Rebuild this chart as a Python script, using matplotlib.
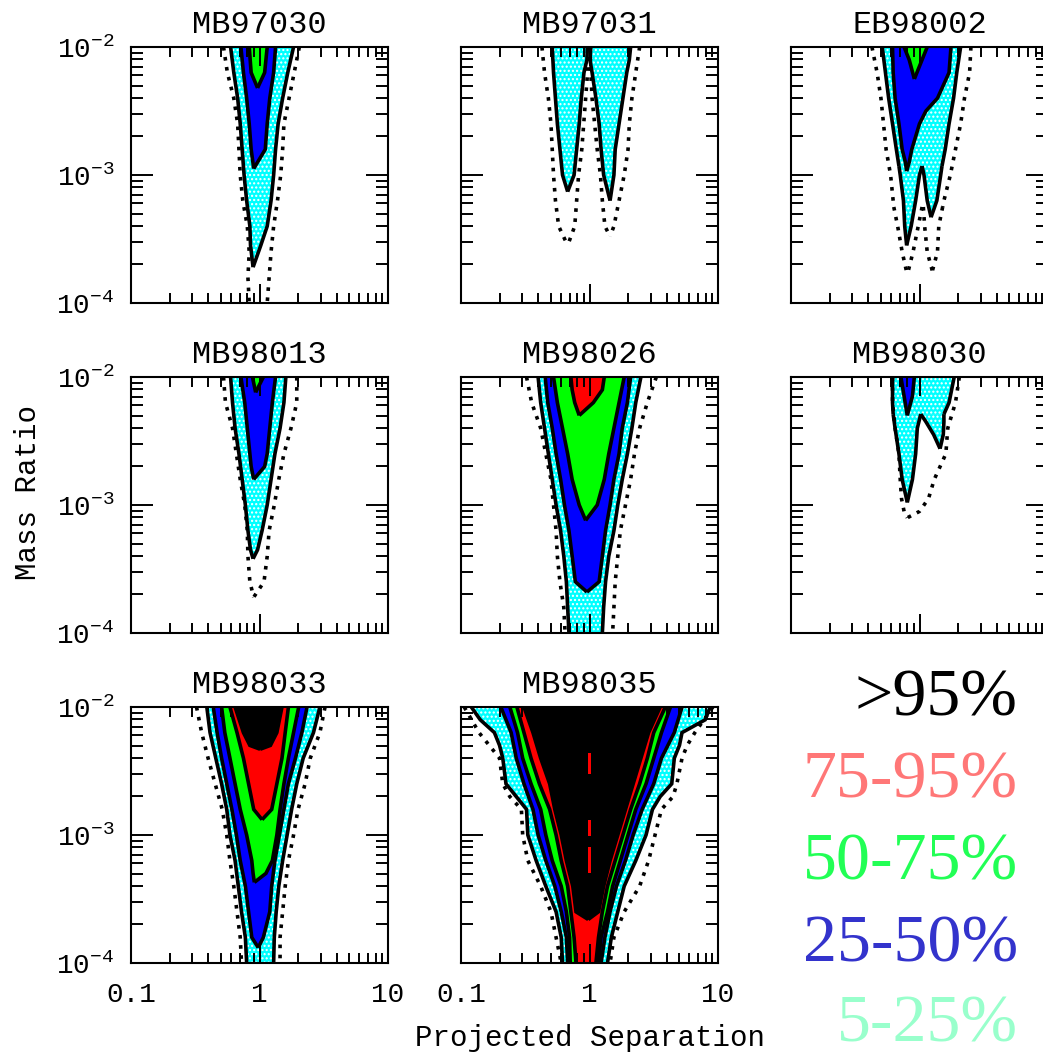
import numpy as np
import matplotlib
matplotlib.use("Agg")
import matplotlib.pyplot as plt
from matplotlib.ticker import LogLocator, NullFormatter

# ---------------------------------------------------------------------------
# Detection-efficiency contours in (log10 separation, log10 mass ratio).
# Each lobe is (log10 q rows, log10 s left edge, log10 s right edge).
# Levels: DOT = 1% (dotted), C05 = 5%, C25 = 25%, C50 = 50%, C75 = 75%, C95 = 95%
# ---------------------------------------------------------------------------
R11 = [-2.0, -2.2, -2.4, -2.6, -2.8, -3.0, -3.2, -3.4, -3.6, -3.8, -4.0]

# MB97030
MB97030_DOT = [(R11,
                [-0.28, -0.25, -0.20, -0.17, -0.16, -0.15, -0.13, -0.095, -0.08, -0.09, -0.08],
                [0.31, 0.27, 0.23, 0.19, 0.18, 0.165, 0.14, 0.11, 0.09, 0.075, 0.06])]
MB97030_C05 = [([-2.0, -2.2, -2.4, -2.6, -2.8, -3.0, -3.2, -3.4, -3.55, -3.72],
                [-0.225, -0.20, -0.17, -0.15, -0.135, -0.12, -0.10, -0.075, -0.07, -0.05],
                [0.265, 0.22, 0.18, 0.145, 0.125, 0.11, 0.09, 0.06, 0.01, -0.05])]
MB97030_C25 = [([-2.0, -2.2, -2.4, -2.6, -2.8, -2.95],
                [-0.145, -0.125, -0.10, -0.08, -0.065, -0.045],
                [0.125, 0.11, 0.08, 0.06, 0.045, -0.045])]
MB97030_C50 = [([-2.0, -2.2, -2.32], [-0.08, -0.065, -0.015], [0.06, 0.04, -0.015])]

# MB97031
MB97031_DOT = [([-2.0, -2.2, -2.4, -2.6, -2.8, -3.0, -3.2, -3.4, -3.55],
                [-0.37, -0.35, -0.32, -0.30, -0.29, -0.28, -0.265, -0.24, -0.17],
                [-0.01, -0.015, -0.03, -0.045, -0.06, -0.085, -0.10, -0.115, -0.17]),
               ([-2.0, -2.2, -2.4, -2.6, -2.8, -3.0, -3.2, -3.4, -3.48],
                [0.005, 0.01, 0.02, 0.04, 0.06, 0.085, 0.10, 0.12, 0.16],
                [0.39, 0.36, 0.33, 0.31, 0.30, 0.27, 0.23, 0.19, 0.16])]
MB97031_C05 = [([-2.0, -2.1, -2.2, -2.4, -2.6, -2.8, -3.0, -3.13],
                [-0.29, -0.285, -0.28, -0.265, -0.25, -0.23, -0.21, -0.17],
                [-0.017, -0.02, -0.043, -0.064, -0.08, -0.10, -0.12, -0.17]),
               ([-2.0, -2.1, -2.2, -2.4, -2.6, -2.8, -3.0, -3.2],
                [0.01, 0.004, 0.02, 0.05, 0.075, 0.09, 0.11, 0.16],
                [0.32, 0.31, 0.29, 0.26, 0.23, 0.20, 0.19, 0.16])]

# EB98002
EB98002_DOT = [([-2.0, -2.2, -2.4, -2.6, -2.8, -3.0, -3.2, -3.25],
                [-0.37, -0.33, -0.30, -0.28, -0.26, -0.225, -0.205, -0.20],
                [0.40, 0.39, 0.35, 0.32, 0.28, 0.24, 0.19, 0.18]),
               ([-3.25, -3.4, -3.6, -3.78], [-0.20, -0.17, -0.135, -0.095], [0.02, -0.01, -0.05, -0.095]),
               ([-3.25, -3.4, -3.6, -3.75], [0.03, 0.04, 0.06, 0.10], [0.18, 0.15, 0.14, 0.10])]
EB98002_C05 = [([-2.0, -2.2, -2.4, -2.6, -2.8, -2.93],
                [-0.29, -0.265, -0.24, -0.21, -0.18, -0.16],
                [0.32, 0.29, 0.265, 0.23, 0.20, 0.175]),
               ([-2.93, -3.0, -3.2, -3.4, -3.55], [-0.16, -0.15, -0.125, -0.115, -0.10],
                [0.02, 0.0, -0.03, -0.065, -0.10]),
               ([-2.93, -3.0, -3.2, -3.33], [0.02, 0.035, 0.06, 0.09], [0.175, 0.165, 0.135, 0.09])]
EB98002_C25 = [([-2.0, -2.2, -2.4, -2.5, -2.6, -2.8, -2.9, -2.97],
                [-0.21, -0.205, -0.19, -0.175, -0.16, -0.135, -0.11, -0.10],
                [0.245, 0.23, 0.14, 0.05, 0.0, -0.06, -0.08, -0.10])]
EB98002_C50 = [([-2.0, -2.1, -2.25], [-0.12, -0.08, -0.04], [0.06, 0.02, -0.04])]

# MB98013
MB98013_DOT = [([-2.0, -2.2, -2.4, -2.6, -2.8, -3.0, -3.2, -3.4, -3.6, -3.72],
                [-0.28, -0.265, -0.21, -0.18, -0.15, -0.115, -0.095, -0.09, -0.075, -0.045],
                [0.29, 0.29, 0.245, 0.19, 0.15, 0.115, 0.075, 0.06, 0.035, -0.045])]
MB98013_C05 = [([-2.0, -2.2, -2.4, -2.6, -2.8, -3.0, -3.2, -3.35, -3.42],
                [-0.225, -0.21, -0.19, -0.16, -0.135, -0.11, -0.09, -0.07, -0.05],
                [0.205, 0.19, 0.16, 0.12, 0.09, 0.06, 0.02, -0.015, -0.05])]
MB98013_C25 = [([-2.0, -2.2, -2.4, -2.6, -2.7, -2.8],
                [-0.145, -0.115, -0.095, -0.075, -0.065, -0.045],
                [0.125, 0.10, 0.08, 0.06, 0.04, -0.045])]
MB98013_C50 = [([-2.0, -2.12], [-0.055, -0.03], [0.03, -0.03])]

# MB98026
MB98026_DOT = [(R11,
                [-0.49, -0.45, -0.38, -0.34, -0.30, -0.28, -0.26, -0.25, -0.23, -0.20, -0.19],
                [0.52, 0.45, 0.39, 0.35, 0.32, 0.28, 0.24, 0.22, 0.20, 0.19, 0.18])]
MB98026_C05 = [(R11,
                [-0.40, -0.38, -0.35, -0.32, -0.29, -0.26, -0.225, -0.20, -0.18, -0.17, -0.16],
                [0.40, 0.36, 0.33, 0.295, 0.255, 0.22, 0.19, 0.15, 0.125, 0.11, 0.10])]
MB98026_C25 = [([-2.0, -2.2, -2.4, -2.6, -2.8, -3.0, -3.2, -3.4, -3.6, -3.68],
                [-0.345, -0.325, -0.29, -0.26, -0.225, -0.195, -0.16, -0.135, -0.11, -0.02],
                [0.32, 0.295, 0.255, 0.23, 0.19, 0.16, 0.125, 0.10, 0.075, -0.02])]
MB98026_C50 = [([-2.0, -2.2, -2.4, -2.6, -2.8, -3.0, -3.12],
                [-0.28, -0.25, -0.21, -0.17, -0.135, -0.08, -0.03],
                [0.27, 0.23, 0.19, 0.15, 0.115, 0.06, -0.03])]
MB98026_C75 = [([-2.0, -2.1, -2.2, -2.3], [-0.145, -0.135, -0.115, -0.08], [0.115, 0.10, 0.03, -0.08])]

# MB98030
MB98030_DOT = [([-2.0, -2.2, -2.4, -2.6, -2.8, -2.95, -3.05, -3.1],
                [-0.21, -0.21, -0.19, -0.16, -0.15, -0.14, -0.12, -0.095],
                [0.31, 0.28, 0.22, 0.205, 0.115, 0.07, 0.0, -0.095])]
MB98030_C05 = [([-2.0, -2.2, -2.29], [-0.21, -0.21, -0.205], [0.27, 0.23, 0.19]),
               ([-2.29, -2.4, -2.6, -2.8, -2.98], [-0.205, -0.19, -0.16, -0.135, -0.095],
                [0.01, -0.017, -0.03, -0.055, -0.095]),
               ([-2.29, -2.35, -2.45, -2.56], [0.01, 0.05, 0.11, 0.16], [0.19, 0.19, 0.185, 0.16])]
MB98030_C25 = [([-2.0, -2.15, -2.3], [-0.145, -0.12, -0.095], [-0.04, -0.055, -0.095])]

# MB98033
MB98033_DOT = [(R11,
                [-0.49, -0.45, -0.40, -0.345, -0.29, -0.255, -0.23, -0.20, -0.175, -0.15, -0.14],
                [0.51, 0.47, 0.395, 0.355, 0.30, 0.265, 0.225, 0.20, 0.18, 0.16, 0.16])]
MB98033_C05 = [(R11,
                [-0.41, -0.385, -0.34, -0.295, -0.255, -0.23, -0.19, -0.165, -0.14, -0.11, -0.10],
                [0.47, 0.42, 0.34, 0.29, 0.25, 0.215, 0.18, 0.15, 0.13, 0.115, 0.11])]
MB98033_C25 = [([-2.0, -2.2, -2.4, -2.6, -2.8, -3.0, -3.2, -3.4, -3.6, -3.8, -3.88],
                [-0.36, -0.33, -0.295, -0.255, -0.215, -0.18, -0.15, -0.11, -0.085, -0.06, -0.01],
                [0.37, 0.33, 0.28, 0.225, 0.19, 0.155, 0.12, 0.095, 0.08, 0.03, -0.01])]
MB98033_C50 = [([-2.0, -2.2, -2.4, -2.6, -2.8, -3.0, -3.2, -3.3, -3.37],
                [-0.295, -0.27, -0.23, -0.19, -0.15, -0.10, -0.06, -0.05, -0.04],
                [0.305, 0.265, 0.225, 0.19, 0.16, 0.135, 0.10, 0.05, -0.04])]
MB98033_C75 = [([-2.0, -2.2, -2.4, -2.6, -2.8, -2.88],
                [-0.23, -0.175, -0.125, -0.085, -0.045, 0.02],
                [0.225, 0.20, 0.175, 0.135, 0.095, 0.02])]
MB98033_C95 = [([-2.0, -2.2, -2.3, -2.33], [-0.19, -0.125, -0.075, 0.005], [0.175, 0.135, 0.085, 0.005])]

# MB98035
MB98035_DOT = [([-2.0, -2.2, -2.3, -2.4, -2.6, -2.7, -2.8, -3.0, -3.2, -3.4, -3.6, -3.8, -4.0],
                [-0.975, -0.86, -0.78, -0.70, -0.675, -0.62, -0.53, -0.52, -0.48, -0.38, -0.30, -0.26, -0.22],
                [0.96, 0.82, 0.76, 0.72, 0.68, 0.65, 0.56, 0.51, 0.46, 0.39, 0.27, 0.19, 0.16])]
MB98035_C05 = [([-2.0, -2.1, -2.2, -2.3, -2.4, -2.6, -2.7, -2.8, -3.0, -3.2, -3.4, -3.6, -3.8, -4.0],
                [-0.92, -0.85, -0.74, -0.70, -0.675, -0.65, -0.57, -0.49, -0.48, -0.415, -0.34, -0.26, -0.22, -0.21],
                [0.94, 0.90, 0.72, 0.70, 0.66, 0.64, 0.55, 0.49, 0.44, 0.36, 0.27, 0.22, 0.17, 0.14])]
MB98035_C25 = [(R11,
                [-0.69, -0.61, -0.57, -0.51, -0.44, -0.40, -0.34, -0.27, -0.22, -0.18, -0.17],
                [0.72, 0.66, 0.56, 0.50, 0.41, 0.34, 0.28, 0.21, 0.16, 0.12, 0.09])]
MB98035_C50 = [(R11,
                [-0.62, -0.56, -0.52, -0.455, -0.38, -0.34, -0.29, -0.22, -0.18, -0.155, -0.15],
                [0.63, 0.56, 0.50, 0.44, 0.36, 0.30, 0.24, 0.18, 0.14, 0.09, 0.07])]
MB98035_C75 = [(R11,
                [-0.565, -0.51, -0.455, -0.39, -0.31, -0.26, -0.22, -0.17, -0.145, -0.12, -0.105],
                [0.59, 0.50, 0.45, 0.39, 0.32, 0.26, 0.20, 0.14, 0.10, 0.07, 0.05])]
MB98035_C95 = [([-2.0, -2.2, -2.4, -2.6, -2.8, -3.0, -3.2, -3.4, -3.6, -3.66],
                [-0.51, -0.44, -0.38, -0.31, -0.27, -0.22, -0.18, -0.13, -0.105, -0.01],
                [0.55, 0.46, 0.40, 0.34, 0.28, 0.22, 0.16, 0.11, 0.07, -0.01])]
# small sub-95% islands along s = 1
MB98035_HOLES = [([-2.36, -2.52], [-0.01, -0.01], [0.01, 0.01]),
                 ([-2.88, -3.01], [-0.01, -0.01], [0.01, 0.01]),
                 ([-3.09, -3.30], [-0.01, -0.01], [0.01, 0.01])]

EVENT_NAMES = ["MB97030", "MB97031", "EB98002",
               "MB98013", "MB98026", "MB98030",
               "MB98033", "MB98035"]

LEVEL_KEYS = ["C05", "C25", "C50", "C75", "C95"]
LEVEL_COLORS = ["#00ffff", "#0000ff", "#00ff00", "#ff0000", "#000000"]

LEGEND_LABELS = [">95%", "75-95%", "50-75%", "25-50%", "5-25%"]
LEGEND_COLORS = ["#000000", "#ff7777", "#22ff55", "#3333cc", "#99ffcc"]

X_TICKS = [0.1, 1, 10]
X_TICK_LABELS = ["0.1", "1", "10"]
Y_TICKS = [1e-4, 1e-3, 1e-2]
Y_TICK_LABELS = [r"$\mathrm{10^{-4}}$", r"$\mathrm{10^{-3}}$", r"$\mathrm{10^{-2}}$"]

MONO = "Liberation Mono"
plt.rcParams["mathtext.fontset"] = "custom"
plt.rcParams["mathtext.rm"] = MONO
plt.rcParams["hatch.color"] = "white"
plt.rcParams["hatch.linewidth"] = 1.0

W, H = 1043, 1057
fig = plt.figure(figsize=(W / 100, H / 100), dpi=100)

col_left = [131, 461, 791]
row_top = [47, 377, 707]
ax_w, ax_h = 257, 256

LW = 2.6
DOTTED = (0, (1, 1.8))


def lobes(name, key):
    return globals().get(f"{name}_{key}", [])


def draw_event(ax, name):
    for key, color in zip(LEVEL_KEYS, LEVEL_COLORS):
        for rows, left, right in lobes(name, key):
            q = 10.0 ** np.asarray(rows)
            sl = 10.0 ** np.asarray(left)
            sr = 10.0 ** np.asarray(right)
            extra = {"hatch": "...."} if key == "C05" else {}
            ax.fill_betweenx(q, sl, sr, facecolor=color, edgecolor="white",
                             linewidth=0, zorder=1, **extra)
    for rows, left, right in lobes(name, "HOLES"):
        ax.fill_betweenx(10.0 ** np.asarray(rows), 10.0 ** np.asarray(left),
                         10.0 ** np.asarray(right), facecolor="#ff0000",
                         linewidth=0, zorder=1.5)
    for key in LEVEL_KEYS:
        for rows, left, right in lobes(name, key):
            q = 10.0 ** np.asarray(rows)
            for edge in (left, right):
                ax.plot(10.0 ** np.asarray(edge), q, color="black", lw=LW,
                        solid_capstyle="butt", solid_joinstyle="miter", zorder=2)
    for rows, left, right in lobes(name, "DOT"):
        q = 10.0 ** np.asarray(rows)
        for edge in (left, right):
            ax.plot(10.0 ** np.asarray(edge), q, color="black", lw=LW,
                    linestyle=DOTTED, dash_capstyle="butt", zorder=2)


for i, name in enumerate(EVENT_NAMES):
    r, c = divmod(i, 3)
    L, T = col_left[c], row_top[r]
    ax = fig.add_axes([L / W, 1 - (T + ax_h) / H, ax_w / W, ax_h / H])
    ax.set_xscale("log")
    ax.set_yscale("log")
    ax.set_xlim(0.1, 10)
    ax.set_ylim(1e-4, 1e-2)
    draw_event(ax, name)

    ax.set_xticks(X_TICKS)
    ax.set_yticks(Y_TICKS)
    ax.xaxis.set_minor_locator(LogLocator(base=10, subs=np.arange(2, 10)))
    ax.yaxis.set_minor_locator(LogLocator(base=10, subs=np.arange(2, 10)))
    ax.xaxis.set_minor_formatter(NullFormatter())
    ax.yaxis.set_minor_formatter(NullFormatter())
    if r == 2:
        ax.set_xticklabels(X_TICK_LABELS, fontfamily=MONO, fontsize=20)
    else:
        ax.set_xticklabels([])
    if c == 0:
        ax.set_yticklabels(Y_TICK_LABELS, fontsize=20)
    else:
        ax.set_yticklabels([])

    ax.tick_params(which="both", direction="in", top=True, right=True,
                   width=1.4, color="black")
    ax.tick_params(axis="x", which="major", length=14, pad=14)
    ax.tick_params(axis="x", which="minor", length=7.2)
    ax.tick_params(axis="y", which="major", length=15.8, pad=12)
    ax.tick_params(axis="y", which="minor", length=8.6)
    for sp in ax.spines.values():
        sp.set_linewidth(1.5)
        sp.set_zorder(3)
    ax.set_title(name, fontfamily=MONO, fontsize=23, pad=10)

fig.text(590 / W, 1 - 1038 / H, "Projected Separation", ha="center", va="center",
         fontfamily=MONO, fontsize=21)
fig.text(28 / W, 1 - 492 / H, "Mass Ratio", ha="center", va="center",
         rotation=90, fontfamily=MONO, fontsize=21)

legend_baselines = [716, 798, 880, 961, 1041]
for label, color, yb in zip(LEGEND_LABELS, LEGEND_COLORS, legend_baselines):
    fig.text(1018 / W, 1 - yb / H, label, ha="right", va="baseline",
             fontfamily="Liberation Serif", fontsize=49, color=color)

fig.savefig("out.png", dpi=100)
